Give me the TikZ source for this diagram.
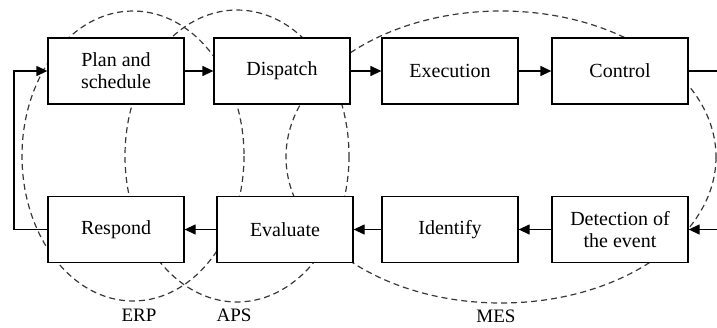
\documentclass[tikz,border=0pt]{standalone}
\usepackage{fontspec}
\setmainfont{Liberation Serif}
\usetikzlibrary{arrows.meta}
\begin{document}
\begin{tikzpicture}[x=1pt,y=-1pt,
 box/.style={draw, fill=white, line width=1.3pt, minimum width=136pt, minimum height=66pt, inner sep=0pt, align=center, font=\fontsize{20}{22}\selectfont},
 flow/.style={line width=1.3pt, -{Triangle[length=11pt,width=10pt]}},
 plainline/.style={line width=1.3pt},
 zone/.style={draw=black!78, line width=1.2pt, dash pattern=on 6pt off 4pt},
 lbl/.style={font=\fontsize{19}{21}\selectfont, inner sep=0pt}]
\useasboundingbox (0,0) rectangle (717,327);
% dashed zones
\draw[zone] (133,156) ellipse [x radius=111, y radius=145];
\draw[zone] (237,156) ellipse [x radius=112, y radius=146];
\draw[zone] (501,157) ellipse [x radius=215, y radius=146];
% boxes
\node[box] (plan) at (116,71) {Plan and\\schedule};
\node[box] (disp) at (282,71) {\raisebox{-2pt}{Dispatch}};
\node[box] (exec) at (450,71) {Execution};
\node[box] (ctrl) at (620,71) {Control};
\node[box] (resp) at (116,229.5) {\raisebox{-1pt}{Respond}};
\node[box] (eval) at (285,229.5) {Evaluate};
\node[box] (ident) at (450,229.5) {\raisebox{-1pt}{Identify}};
\node[box] (det) at (620,229.5) {Detection of\\the event};
% flows
\draw[flow] (plan) -- (disp);
\draw[flow] (disp) -- (exec);
\draw[flow] (exec) -- (ctrl);
\coordinate (outR) at (717,71);
\draw[plainline] (ctrl.east) -- (outR);
\coordinate (inR) at (717,229.5);
\draw[flow] (inR) -- (det.east);
\draw[flow] (det) -- (ident);
\draw[flow] (ident) -- (eval);
\draw[flow] (eval) -- (resp);
\coordinate (fb) at (14,0);
\draw[flow] (resp.west) -- (resp.west -| fb) -- (plan.west -| fb) -- (plan.west);
% labels
\node[lbl] (erp) at (139,315) {ERP};
\node[lbl] (aps) at (234,315) {APS};
\node[lbl] (mes) at (496,316) {MES};
\end{tikzpicture}
\end{document}
